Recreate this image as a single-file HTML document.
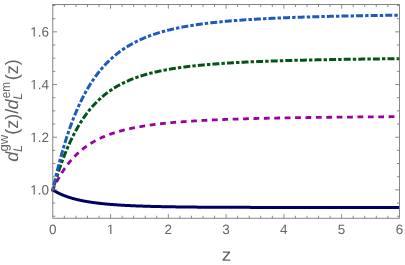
<!DOCTYPE html>
<html><head><meta charset="utf-8"><style>
html,body{margin:0;padding:0;background:#fff;}
body{width:405px;height:265px;position:relative;overflow:hidden;}
</style></head><body>
<svg width="405" height="265" viewBox="0 0 405 265" style="position:absolute;left:0;top:0;will-change:transform;opacity:0.999;text-rendering:geometricPrecision;font-family:'Liberation Sans',sans-serif" fill="#646464">
<g fill="none">
<path d="M52.80 189.90 L52.80 189.90 L52.81 189.90 L52.81 189.91 L52.82 189.91 L52.83 189.92 L52.85 189.93 L52.87 189.94 L52.89 189.96 L52.91 189.97 L52.94 189.99 L52.97 190.01 L53.00 190.03 L53.03 190.05 L53.07 190.07 L53.11 190.10 L53.15 190.12 L53.20 190.15 L53.25 190.18 L53.30 190.22 L53.35 190.25 L53.41 190.28 L53.47 190.32 L53.53 190.36 L53.60 190.40 L53.67 190.44 L53.74 190.48 L53.81 190.53 L53.89 190.58 L53.97 190.62 L54.05 190.67 L54.13 190.72 L54.22 190.78 L54.31 190.83 L54.40 190.89 L54.50 190.94 L54.60 191.00 L54.70 191.06 L54.80 191.12 L54.91 191.18 L55.02 191.24 L55.13 191.31 L55.25 191.37 L55.36 191.44 L55.48 191.51 L55.61 191.58 L55.73 191.65 L55.86 191.72 L55.99 191.79 L56.13 191.87 L56.27 191.94 L56.41 192.02 L56.55 192.10 L56.69 192.17 L56.84 192.25 L56.99 192.33 L57.15 192.41 L57.30 192.50 L57.46 192.58 L57.63 192.66 L57.79 192.75 L57.96 192.83 L58.13 192.92 L58.30 193.00 L58.48 193.09 L58.66 193.18 L58.84 193.27 L59.02 193.36 L59.21 193.45 L59.40 193.54 L59.59 193.63 L59.79 193.72 L59.99 193.81 L60.19 193.91 L60.39 194.00 L60.60 194.09 L60.81 194.19 L61.02 194.28 L61.23 194.38 L61.45 194.47 L61.67 194.57 L61.90 194.66 L62.12 194.76 L62.35 194.86 L62.58 194.95 L62.82 195.05 L63.05 195.15 L63.29 195.24 L63.54 195.34 L63.78 195.44 L64.03 195.54 L64.28 195.63 L64.53 195.73 L64.79 195.83 L65.05 195.93 L65.31 196.03 L65.58 196.12 L65.84 196.22 L66.11 196.32 L66.39 196.42 L66.66 196.52 L66.94 196.61 L67.22 196.71 L67.51 196.81 L67.80 196.91 L68.09 197.00 L68.38 197.10 L68.67 197.20 L68.97 197.30 L69.27 197.39 L69.58 197.49 L69.88 197.58 L70.19 197.68 L70.50 197.78 L70.82 197.87 L71.14 197.97 L71.46 198.06 L71.78 198.15 L72.10 198.25 L72.43 198.34 L72.76 198.44 L73.10 198.53 L73.44 198.62 L73.77 198.71 L74.12 198.80 L74.46 198.90 L74.81 198.99 L75.16 199.08 L75.51 199.17 L75.87 199.26 L76.23 199.35 L76.59 199.43 L76.96 199.52 L77.32 199.61 L77.69 199.70 L78.07 199.78 L78.44 199.87 L78.82 199.96 L79.20 200.04 L79.59 200.13 L79.97 200.21 L80.36 200.29 L80.76 200.38 L81.15 200.46 L81.55 200.54 L81.95 200.62 L82.35 200.70 L82.76 200.78 L83.17 200.86 L83.58 200.94 L83.99 201.02 L84.41 201.10 L84.83 201.18 L85.25 201.25 L85.68 201.33 L86.11 201.41 L86.54 201.48 L86.97 201.56 L87.41 201.63 L87.85 201.70 L88.29 201.78 L88.74 201.85 L89.18 201.92 L89.64 201.99 L90.09 202.06 L90.54 202.13 L91.00 202.20 L91.47 202.27 L91.93 202.34 L92.40 202.40 L92.87 202.47 L93.34 202.54 L93.82 202.60 L94.29 202.67 L94.77 202.73 L95.26 202.79 L95.75 202.86 L96.23 202.92 L96.73 202.98 L97.22 203.04 L97.72 203.10 L98.22 203.16 L98.72 203.22 L99.23 203.28 L99.74 203.34 L100.25 203.40 L100.76 203.46 L101.28 203.51 L101.80 203.57 L102.32 203.62 L102.85 203.68 L103.38 203.73 L103.91 203.79 L104.44 203.84 L104.98 203.89 L105.52 203.94 L106.06 203.99 L106.60 204.05 L107.15 204.10 L107.70 204.15 L108.26 204.19 L108.81 204.24 L109.37 204.29 L109.93 204.34 L110.50 204.39 L111.06 204.43 L111.63 204.48 L112.21 204.52 L112.78 204.57 L113.36 204.61 L113.94 204.66 L114.52 204.70 L115.11 204.74 L115.70 204.78 L116.29 204.83 L116.89 204.87 L117.48 204.91 L118.08 204.95 L118.69 204.99 L119.29 205.03 L119.90 205.06 L120.51 205.10 L121.13 205.14 L121.74 205.18 L122.36 205.21 L122.99 205.25 L123.61 205.29 L124.24 205.32 L124.87 205.36 L125.50 205.39 L126.14 205.43 L126.78 205.46 L127.42 205.49 L128.07 205.52 L128.71 205.56 L129.36 205.59 L130.02 205.62 L130.67 205.65 L131.33 205.68 L131.99 205.71 L132.66 205.74 L133.32 205.77 L133.99 205.80 L134.67 205.83 L135.34 205.86 L136.02 205.88 L136.70 205.91 L137.38 205.94 L138.07 205.96 L138.76 205.99 L139.45 206.02 L140.14 206.04 L140.84 206.07 L141.54 206.09 L142.24 206.12 L142.95 206.14 L143.66 206.16 L144.37 206.19 L145.08 206.21 L145.80 206.23 L146.52 206.25 L147.24 206.28 L147.97 206.30 L148.70 206.32 L149.43 206.34 L150.16 206.36 L150.90 206.38 L151.64 206.40 L152.38 206.42 L153.12 206.44 L153.87 206.46 L154.62 206.48 L155.37 206.50 L156.13 206.51 L156.89 206.53 L157.65 206.55 L158.41 206.57 L159.18 206.58 L159.95 206.60 L160.72 206.62 L161.49 206.63 L162.27 206.65 L163.05 206.67 L163.84 206.68 L164.62 206.70 L165.41 206.71 L166.20 206.73 L167.00 206.74 L167.79 206.76 L168.59 206.77 L169.40 206.78 L170.20 206.80 L171.01 206.81 L171.82 206.82 L172.63 206.84 L173.45 206.85 L174.27 206.86 L175.09 206.87 L175.92 206.89 L176.75 206.90 L177.58 206.91 L178.41 206.92 L179.25 206.93 L180.08 206.94 L180.93 206.95 L181.77 206.96 L182.62 206.97 L183.47 206.98 L184.32 206.99 L185.17 207.00 L186.03 207.01 L186.89 207.02 L187.76 207.03 L188.62 207.04 L189.49 207.05 L190.37 207.06 L191.24 207.07 L192.12 207.08 L193.00 207.09 L193.88 207.09 L194.77 207.10 L195.66 207.11 L196.55 207.12 L197.44 207.13 L198.34 207.13 L199.24 207.14 L200.14 207.15 L201.05 207.15 L201.95 207.16 L202.87 207.17 L203.78 207.17 L204.70 207.18 L205.61 207.19 L206.54 207.19 L207.46 207.20 L208.39 207.21 L209.32 207.21 L210.25 207.22 L211.19 207.22 L212.13 207.23 L213.07 207.23 L214.01 207.24 L214.96 207.25 L215.91 207.25 L216.86 207.26 L217.82 207.26 L218.77 207.27 L219.74 207.27 L220.70 207.27 L221.66 207.28 L222.63 207.28 L223.61 207.29 L224.58 207.29 L225.56 207.30 L226.54 207.30 L227.52 207.30 L228.51 207.31 L229.50 207.31 L230.49 207.32 L231.48 207.32 L232.48 207.32 L233.48 207.33 L234.48 207.33 L235.48 207.33 L236.49 207.34 L237.50 207.34 L238.52 207.34 L239.53 207.35 L240.55 207.35 L241.57 207.35 L242.60 207.36 L243.63 207.36 L244.66 207.36 L245.69 207.36 L246.72 207.37 L247.76 207.37 L248.80 207.37 L249.85 207.37 L250.89 207.38 L251.94 207.38 L253.00 207.38 L254.05 207.38 L255.11 207.39 L256.17 207.39 L257.23 207.39 L258.30 207.39 L259.37 207.39 L260.44 207.40 L261.51 207.40 L262.59 207.40 L263.67 207.40 L264.75 207.40 L265.84 207.40 L266.93 207.41 L268.02 207.41 L269.11 207.41 L270.21 207.41 L271.31 207.41 L272.41 207.41 L273.52 207.42 L274.62 207.42 L275.73 207.42 L276.85 207.42 L277.96 207.42 L279.08 207.42 L280.20 207.42 L281.33 207.43 L282.46 207.43 L283.59 207.43 L284.72 207.43 L285.85 207.43 L286.99 207.43 L288.13 207.43 L289.28 207.43 L290.42 207.43 L291.57 207.44 L292.72 207.44 L293.88 207.44 L295.04 207.44 L296.20 207.44 L297.36 207.44 L298.53 207.44 L299.70 207.44 L300.87 207.44 L302.04 207.44 L303.22 207.44 L304.40 207.44 L305.58 207.45 L306.77 207.45 L307.95 207.45 L309.15 207.45 L310.34 207.45 L311.54 207.45 L312.73 207.45 L313.94 207.45 L315.14 207.45 L316.35 207.45 L317.56 207.45 L318.77 207.45 L319.99 207.45 L321.21 207.45 L322.43 207.45 L323.65 207.45 L324.88 207.45 L326.11 207.46 L327.34 207.46 L328.58 207.46 L329.82 207.46 L331.06 207.46 L332.30 207.46 L333.55 207.46 L334.80 207.46 L336.05 207.46 L337.30 207.46 L338.56 207.46 L339.82 207.46 L341.08 207.46 L342.35 207.46 L343.62 207.46 L344.89 207.46 L346.16 207.46 L347.44 207.46 L348.72 207.46 L350.00 207.46 L351.29 207.46 L352.57 207.46 L353.87 207.46 L355.16 207.46 L356.45 207.46 L357.75 207.46 L359.06 207.46 L360.36 207.46 L361.67 207.46 L362.98 207.46 L364.29 207.46 L365.61 207.46 L366.92 207.46 L368.25 207.46 L369.57 207.46 L370.90 207.47 L372.23 207.47 L373.56 207.47 L374.89 207.47 L376.23 207.47 L377.57 207.47 L378.92 207.47 L380.26 207.47 L381.61 207.47 L382.96 207.47 L384.32 207.47 L385.67 207.47 L387.03 207.47 L388.40 207.47 L389.76 207.47 L391.13 207.47 L392.50 207.47 L393.88 207.47 L395.25 207.47 L396.63 207.47 L398.01 207.47 L399.40 207.47" stroke="#000064" stroke-width="3.0"/>
<path d="M52.80 189.90 L52.80 189.90 L52.81 189.89 L52.81 189.87 L52.82 189.85 L52.83 189.82 L52.85 189.79 L52.87 189.75 L52.89 189.70 L52.91 189.65 L52.94 189.59 L52.97 189.53 L53.00 189.46 L53.03 189.38 L53.07 189.30 L53.11 189.21 L53.15 189.12 L53.20 189.02 L53.25 188.91 L53.30 188.80 L53.35 188.68 L53.41 188.56 L53.47 188.43 L53.53 188.29 L53.60 188.15 L53.67 188.01 L53.74 187.85 L53.81 187.70 L53.89 187.53 L53.97 187.37 L54.05 187.19 L54.13 187.01 L54.22 186.83 L54.31 186.64 L54.40 186.45 L54.50 186.25 L54.60 186.04 L54.70 185.83 L54.80 185.62 L54.91 185.40 L55.02 185.17 L55.13 184.94 L55.25 184.71 L55.36 184.47 L55.48 184.23 L55.61 183.98 L55.73 183.73 L55.86 183.47 L55.99 183.21 L56.13 182.95 L56.27 182.68 L56.41 182.41 L56.55 182.13 L56.69 181.85 L56.84 181.57 L56.99 181.28 L57.15 180.99 L57.30 180.69 L57.46 180.40 L57.63 180.09 L57.79 179.79 L57.96 179.48 L58.13 179.17 L58.30 178.85 L58.48 178.54 L58.66 178.22 L58.84 177.89 L59.02 177.57 L59.21 177.24 L59.40 176.91 L59.59 176.57 L59.79 176.24 L59.99 175.90 L60.19 175.56 L60.39 175.21 L60.60 174.87 L60.81 174.52 L61.02 174.17 L61.23 173.82 L61.45 173.47 L61.67 173.11 L61.90 172.75 L62.12 172.40 L62.35 172.04 L62.58 171.68 L62.82 171.31 L63.05 170.95 L63.29 170.59 L63.54 170.22 L63.78 169.85 L64.03 169.49 L64.28 169.12 L64.53 168.75 L64.79 168.38 L65.05 168.01 L65.31 167.64 L65.58 167.27 L65.84 166.89 L66.11 166.52 L66.39 166.15 L66.66 165.78 L66.94 165.40 L67.22 165.03 L67.51 164.66 L67.80 164.28 L68.09 163.91 L68.38 163.54 L68.67 163.17 L68.97 162.79 L69.27 162.42 L69.58 162.05 L69.88 161.68 L70.19 161.31 L70.50 160.94 L70.82 160.57 L71.14 160.20 L71.46 159.83 L71.78 159.47 L72.10 159.10 L72.43 158.74 L72.76 158.37 L73.10 158.01 L73.44 157.65 L73.77 157.28 L74.12 156.92 L74.46 156.57 L74.81 156.21 L75.16 155.85 L75.51 155.50 L75.87 155.14 L76.23 154.79 L76.59 154.44 L76.96 154.09 L77.32 153.74 L77.69 153.40 L78.07 153.05 L78.44 152.71 L78.82 152.37 L79.20 152.03 L79.59 151.69 L79.97 151.35 L80.36 151.02 L80.76 150.68 L81.15 150.35 L81.55 150.02 L81.95 149.70 L82.35 149.37 L82.76 149.05 L83.17 148.72 L83.58 148.40 L83.99 148.09 L84.41 147.77 L84.83 147.46 L85.25 147.14 L85.68 146.83 L86.11 146.53 L86.54 146.22 L86.97 145.92 L87.41 145.62 L87.85 145.32 L88.29 145.02 L88.74 144.72 L89.18 144.43 L89.64 144.14 L90.09 143.85 L90.54 143.56 L91.00 143.28 L91.47 143.00 L91.93 142.72 L92.40 142.44 L92.87 142.16 L93.34 141.89 L93.82 141.62 L94.29 141.35 L94.77 141.08 L95.26 140.82 L95.75 140.56 L96.23 140.30 L96.73 140.04 L97.22 139.78 L97.72 139.53 L98.22 139.28 L98.72 139.03 L99.23 138.78 L99.74 138.54 L100.25 138.29 L100.76 138.05 L101.28 137.81 L101.80 137.58 L102.32 137.34 L102.85 137.11 L103.38 136.88 L103.91 136.65 L104.44 136.43 L104.98 136.21 L105.52 135.98 L106.06 135.76 L106.60 135.55 L107.15 135.33 L107.70 135.12 L108.26 134.91 L108.81 134.70 L109.37 134.49 L109.93 134.29 L110.50 134.09 L111.06 133.89 L111.63 133.69 L112.21 133.49 L112.78 133.30 L113.36 133.11 L113.94 132.91 L114.52 132.73 L115.11 132.54 L115.70 132.36 L116.29 132.17 L116.89 131.99 L117.48 131.81 L118.08 131.64 L118.69 131.46 L119.29 131.29 L119.90 131.12 L120.51 130.95 L121.13 130.78 L121.74 130.61 L122.36 130.45 L122.99 130.29 L123.61 130.13 L124.24 129.97 L124.87 129.81 L125.50 129.65 L126.14 129.50 L126.78 129.35 L127.42 129.20 L128.07 129.05 L128.71 128.90 L129.36 128.76 L130.02 128.61 L130.67 128.47 L131.33 128.33 L131.99 128.19 L132.66 128.05 L133.32 127.92 L133.99 127.78 L134.67 127.65 L135.34 127.52 L136.02 127.39 L136.70 127.26 L137.38 127.13 L138.07 127.01 L138.76 126.88 L139.45 126.76 L140.14 126.64 L140.84 126.52 L141.54 126.40 L142.24 126.28 L142.95 126.17 L143.66 126.05 L144.37 125.94 L145.08 125.83 L145.80 125.72 L146.52 125.61 L147.24 125.50 L147.97 125.39 L148.70 125.29 L149.43 125.18 L150.16 125.08 L150.90 124.98 L151.64 124.88 L152.38 124.78 L153.12 124.68 L153.87 124.58 L154.62 124.48 L155.37 124.39 L156.13 124.29 L156.89 124.20 L157.65 124.11 L158.41 124.02 L159.18 123.93 L159.95 123.84 L160.72 123.75 L161.49 123.67 L162.27 123.58 L163.05 123.50 L163.84 123.41 L164.62 123.33 L165.41 123.25 L166.20 123.17 L167.00 123.09 L167.79 123.01 L168.59 122.93 L169.40 122.86 L170.20 122.78 L171.01 122.70 L171.82 122.63 L172.63 122.56 L173.45 122.48 L174.27 122.41 L175.09 122.34 L175.92 122.27 L176.75 122.20 L177.58 122.13 L178.41 122.07 L179.25 122.00 L180.08 121.93 L180.93 121.87 L181.77 121.80 L182.62 121.74 L183.47 121.68 L184.32 121.61 L185.17 121.55 L186.03 121.49 L186.89 121.43 L187.76 121.37 L188.62 121.31 L189.49 121.26 L190.37 121.20 L191.24 121.14 L192.12 121.08 L193.00 121.03 L193.88 120.97 L194.77 120.92 L195.66 120.87 L196.55 120.81 L197.44 120.76 L198.34 120.71 L199.24 120.66 L200.14 120.61 L201.05 120.56 L201.95 120.51 L202.87 120.46 L203.78 120.41 L204.70 120.36 L205.61 120.32 L206.54 120.27 L207.46 120.22 L208.39 120.18 L209.32 120.13 L210.25 120.09 L211.19 120.05 L212.13 120.00 L213.07 119.96 L214.01 119.92 L214.96 119.87 L215.91 119.83 L216.86 119.79 L217.82 119.75 L218.77 119.71 L219.74 119.67 L220.70 119.63 L221.66 119.59 L222.63 119.55 L223.61 119.52 L224.58 119.48 L225.56 119.44 L226.54 119.40 L227.52 119.37 L228.51 119.33 L229.50 119.30 L230.49 119.26 L231.48 119.23 L232.48 119.19 L233.48 119.16 L234.48 119.12 L235.48 119.09 L236.49 119.06 L237.50 119.03 L238.52 118.99 L239.53 118.96 L240.55 118.93 L241.57 118.90 L242.60 118.87 L243.63 118.84 L244.66 118.81 L245.69 118.78 L246.72 118.75 L247.76 118.72 L248.80 118.69 L249.85 118.66 L250.89 118.63 L251.94 118.61 L253.00 118.58 L254.05 118.55 L255.11 118.52 L256.17 118.50 L257.23 118.47 L258.30 118.44 L259.37 118.42 L260.44 118.39 L261.51 118.37 L262.59 118.34 L263.67 118.32 L264.75 118.29 L265.84 118.27 L266.93 118.24 L268.02 118.22 L269.11 118.20 L270.21 118.17 L271.31 118.15 L272.41 118.13 L273.52 118.10 L274.62 118.08 L275.73 118.06 L276.85 118.04 L277.96 118.02 L279.08 117.99 L280.20 117.97 L281.33 117.95 L282.46 117.93 L283.59 117.91 L284.72 117.89 L285.85 117.87 L286.99 117.85 L288.13 117.83 L289.28 117.81 L290.42 117.79 L291.57 117.77 L292.72 117.75 L293.88 117.73 L295.04 117.72 L296.20 117.70 L297.36 117.68 L298.53 117.66 L299.70 117.64 L300.87 117.63 L302.04 117.61 L303.22 117.59 L304.40 117.57 L305.58 117.56 L306.77 117.54 L307.95 117.52 L309.15 117.51 L310.34 117.49 L311.54 117.47 L312.73 117.46 L313.94 117.44 L315.14 117.43 L316.35 117.41 L317.56 117.40 L318.77 117.38 L319.99 117.37 L321.21 117.35 L322.43 117.34 L323.65 117.32 L324.88 117.31 L326.11 117.29 L327.34 117.28 L328.58 117.26 L329.82 117.25 L331.06 117.24 L332.30 117.22 L333.55 117.21 L334.80 117.20 L336.05 117.18 L337.30 117.17 L338.56 117.16 L339.82 117.14 L341.08 117.13 L342.35 117.12 L343.62 117.10 L344.89 117.09 L346.16 117.08 L347.44 117.07 L348.72 117.06 L350.00 117.04 L351.29 117.03 L352.57 117.02 L353.87 117.01 L355.16 117.00 L356.45 116.99 L357.75 116.97 L359.06 116.96 L360.36 116.95 L361.67 116.94 L362.98 116.93 L364.29 116.92 L365.61 116.91 L366.92 116.90 L368.25 116.89 L369.57 116.88 L370.90 116.87 L372.23 116.86 L373.56 116.85 L374.89 116.84 L376.23 116.83 L377.57 116.82 L378.92 116.81 L380.26 116.80 L381.61 116.79 L382.96 116.78 L384.32 116.77 L385.67 116.76 L387.03 116.75 L388.40 116.74 L389.76 116.73 L391.13 116.72 L392.50 116.71 L393.88 116.70 L395.25 116.69 L396.63 116.69 L398.01 116.68 L399.40 116.67" stroke="#9a00a0" stroke-width="2.8" stroke-dasharray="5.8 4.6" stroke-dashoffset="1.67"/>
<path d="M52.80 189.90 L52.80 189.90 L52.81 189.88 L52.81 189.86 L52.82 189.82 L52.83 189.78 L52.85 189.73 L52.87 189.67 L52.89 189.59 L52.91 189.51 L52.94 189.42 L52.97 189.32 L53.00 189.21 L53.03 189.10 L53.07 188.97 L53.11 188.83 L53.15 188.68 L53.20 188.53 L53.25 188.36 L53.30 188.19 L53.35 188.00 L53.41 187.81 L53.47 187.61 L53.53 187.40 L53.60 187.18 L53.67 186.95 L53.74 186.71 L53.81 186.46 L53.89 186.21 L53.97 185.94 L54.05 185.67 L54.13 185.39 L54.22 185.10 L54.31 184.80 L54.40 184.49 L54.50 184.17 L54.60 183.85 L54.70 183.52 L54.80 183.18 L54.91 182.83 L55.02 182.47 L55.13 182.10 L55.25 181.73 L55.36 181.35 L55.48 180.96 L55.61 180.56 L55.73 180.16 L55.86 179.75 L55.99 179.33 L56.13 178.90 L56.27 178.47 L56.41 178.03 L56.55 177.58 L56.69 177.12 L56.84 176.66 L56.99 176.19 L57.15 175.72 L57.30 175.23 L57.46 174.75 L57.63 174.25 L57.79 173.75 L57.96 173.24 L58.13 172.73 L58.30 172.21 L58.48 171.68 L58.66 171.15 L58.84 170.61 L59.02 170.07 L59.21 169.52 L59.40 168.97 L59.59 168.41 L59.79 167.85 L59.99 167.28 L60.19 166.70 L60.39 166.12 L60.60 165.54 L60.81 164.95 L61.02 164.36 L61.23 163.77 L61.45 163.17 L61.67 162.56 L61.90 161.95 L62.12 161.34 L62.35 160.73 L62.58 160.11 L62.82 159.48 L63.05 158.86 L63.29 158.23 L63.54 157.60 L63.78 156.96 L64.03 156.32 L64.28 155.68 L64.53 155.04 L64.79 154.39 L65.05 153.75 L65.31 153.10 L65.58 152.44 L65.84 151.79 L66.11 151.13 L66.39 150.48 L66.66 149.82 L66.94 149.16 L67.22 148.50 L67.51 147.83 L67.80 147.17 L68.09 146.50 L68.38 145.84 L68.67 145.17 L68.97 144.50 L69.27 143.84 L69.58 143.17 L69.88 142.50 L70.19 141.83 L70.50 141.16 L70.82 140.49 L71.14 139.83 L71.46 139.16 L71.78 138.49 L72.10 137.82 L72.43 137.16 L72.76 136.49 L73.10 135.83 L73.44 135.16 L73.77 134.50 L74.12 133.84 L74.46 133.18 L74.81 132.52 L75.16 131.86 L75.51 131.21 L75.87 130.55 L76.23 129.90 L76.59 129.25 L76.96 128.60 L77.32 127.95 L77.69 127.31 L78.07 126.66 L78.44 126.02 L78.82 125.39 L79.20 124.75 L79.59 124.12 L79.97 123.48 L80.36 122.86 L80.76 122.23 L81.15 121.61 L81.55 120.99 L81.95 120.37 L82.35 119.75 L82.76 119.14 L83.17 118.53 L83.58 117.93 L83.99 117.33 L84.41 116.73 L84.83 116.13 L85.25 115.54 L85.68 114.95 L86.11 114.37 L86.54 113.78 L86.97 113.21 L87.41 112.63 L87.85 112.06 L88.29 111.49 L88.74 110.93 L89.18 110.37 L89.64 109.81 L90.09 109.26 L90.54 108.71 L91.00 108.16 L91.47 107.62 L91.93 107.09 L92.40 106.55 L92.87 106.02 L93.34 105.50 L93.82 104.98 L94.29 104.46 L94.77 103.95 L95.26 103.44 L95.75 102.93 L96.23 102.43 L96.73 101.93 L97.22 101.44 L97.72 100.95 L98.22 100.47 L98.72 99.99 L99.23 99.51 L99.74 99.04 L100.25 98.57 L100.76 98.10 L101.28 97.64 L101.80 97.19 L102.32 96.74 L102.85 96.29 L103.38 95.85 L103.91 95.41 L104.44 94.97 L104.98 94.54 L105.52 94.12 L106.06 93.69 L106.60 93.27 L107.15 92.86 L107.70 92.45 L108.26 92.04 L108.81 91.64 L109.37 91.24 L109.93 90.85 L110.50 90.46 L111.06 90.07 L111.63 89.69 L112.21 89.31 L112.78 88.94 L113.36 88.57 L113.94 88.20 L114.52 87.84 L115.11 87.48 L115.70 87.12 L116.29 86.77 L116.89 86.43 L117.48 86.08 L118.08 85.74 L118.69 85.41 L119.29 85.07 L119.90 84.74 L120.51 84.42 L121.13 84.10 L121.74 83.78 L122.36 83.47 L122.99 83.16 L123.61 82.85 L124.24 82.55 L124.87 82.24 L125.50 81.95 L126.14 81.65 L126.78 81.37 L127.42 81.08 L128.07 80.80 L128.71 80.52 L129.36 80.24 L130.02 79.97 L130.67 79.70 L131.33 79.43 L131.99 79.16 L132.66 78.90 L133.32 78.65 L133.99 78.39 L134.67 78.14 L135.34 77.89 L136.02 77.65 L136.70 77.40 L137.38 77.17 L138.07 76.93 L138.76 76.69 L139.45 76.46 L140.14 76.24 L140.84 76.01 L141.54 75.79 L142.24 75.57 L142.95 75.35 L143.66 75.14 L144.37 74.93 L145.08 74.72 L145.80 74.51 L146.52 74.31 L147.24 74.10 L147.97 73.91 L148.70 73.71 L149.43 73.51 L150.16 73.32 L150.90 73.13 L151.64 72.95 L152.38 72.76 L153.12 72.58 L153.87 72.40 L154.62 72.22 L155.37 72.05 L156.13 71.87 L156.89 71.70 L157.65 71.53 L158.41 71.37 L159.18 71.20 L159.95 71.04 L160.72 70.88 L161.49 70.72 L162.27 70.57 L163.05 70.41 L163.84 70.26 L164.62 70.11 L165.41 69.96 L166.20 69.81 L167.00 69.67 L167.79 69.52 L168.59 69.38 L169.40 69.24 L170.20 69.11 L171.01 68.97 L171.82 68.84 L172.63 68.70 L173.45 68.57 L174.27 68.44 L175.09 68.32 L175.92 68.19 L176.75 68.06 L177.58 67.94 L178.41 67.82 L179.25 67.70 L180.08 67.58 L180.93 67.47 L181.77 67.35 L182.62 67.24 L183.47 67.12 L184.32 67.01 L185.17 66.90 L186.03 66.80 L186.89 66.69 L187.76 66.58 L188.62 66.48 L189.49 66.38 L190.37 66.28 L191.24 66.18 L192.12 66.08 L193.00 65.98 L193.88 65.88 L194.77 65.79 L195.66 65.69 L196.55 65.60 L197.44 65.51 L198.34 65.42 L199.24 65.33 L200.14 65.24 L201.05 65.15 L201.95 65.07 L202.87 64.98 L203.78 64.90 L204.70 64.81 L205.61 64.73 L206.54 64.65 L207.46 64.57 L208.39 64.49 L209.32 64.41 L210.25 64.34 L211.19 64.26 L212.13 64.19 L213.07 64.11 L214.01 64.04 L214.96 63.97 L215.91 63.89 L216.86 63.82 L217.82 63.75 L218.77 63.68 L219.74 63.62 L220.70 63.55 L221.66 63.48 L222.63 63.42 L223.61 63.35 L224.58 63.29 L225.56 63.22 L226.54 63.16 L227.52 63.10 L228.51 63.04 L229.50 62.98 L230.49 62.92 L231.48 62.86 L232.48 62.80 L233.48 62.74 L234.48 62.69 L235.48 62.63 L236.49 62.57 L237.50 62.52 L238.52 62.47 L239.53 62.41 L240.55 62.36 L241.57 62.31 L242.60 62.25 L243.63 62.20 L244.66 62.15 L245.69 62.10 L246.72 62.05 L247.76 62.01 L248.80 61.96 L249.85 61.91 L250.89 61.86 L251.94 61.82 L253.00 61.77 L254.05 61.72 L255.11 61.68 L256.17 61.63 L257.23 61.59 L258.30 61.55 L259.37 61.50 L260.44 61.46 L261.51 61.42 L262.59 61.38 L263.67 61.34 L264.75 61.30 L265.84 61.26 L266.93 61.22 L268.02 61.18 L269.11 61.14 L270.21 61.10 L271.31 61.06 L272.41 61.02 L273.52 60.99 L274.62 60.95 L275.73 60.91 L276.85 60.88 L277.96 60.84 L279.08 60.81 L280.20 60.77 L281.33 60.74 L282.46 60.71 L283.59 60.67 L284.72 60.64 L285.85 60.61 L286.99 60.57 L288.13 60.54 L289.28 60.51 L290.42 60.48 L291.57 60.45 L292.72 60.42 L293.88 60.39 L295.04 60.36 L296.20 60.33 L297.36 60.30 L298.53 60.27 L299.70 60.24 L300.87 60.21 L302.04 60.18 L303.22 60.15 L304.40 60.13 L305.58 60.10 L306.77 60.07 L307.95 60.04 L309.15 60.02 L310.34 59.99 L311.54 59.97 L312.73 59.94 L313.94 59.91 L315.14 59.89 L316.35 59.86 L317.56 59.84 L318.77 59.82 L319.99 59.79 L321.21 59.77 L322.43 59.74 L323.65 59.72 L324.88 59.70 L326.11 59.67 L327.34 59.65 L328.58 59.63 L329.82 59.61 L331.06 59.58 L332.30 59.56 L333.55 59.54 L334.80 59.52 L336.05 59.50 L337.30 59.48 L338.56 59.46 L339.82 59.44 L341.08 59.42 L342.35 59.40 L343.62 59.38 L344.89 59.36 L346.16 59.34 L347.44 59.32 L348.72 59.30 L350.00 59.28 L351.29 59.26 L352.57 59.24 L353.87 59.22 L355.16 59.21 L356.45 59.19 L357.75 59.17 L359.06 59.15 L360.36 59.13 L361.67 59.12 L362.98 59.10 L364.29 59.08 L365.61 59.07 L366.92 59.05 L368.25 59.03 L369.57 59.02 L370.90 59.00 L372.23 58.98 L373.56 58.97 L374.89 58.95 L376.23 58.94 L377.57 58.92 L378.92 58.91 L380.26 58.89 L381.61 58.88 L382.96 58.86 L384.32 58.85 L385.67 58.83 L387.03 58.82 L388.40 58.80 L389.76 58.79 L391.13 58.78 L392.50 58.76 L393.88 58.75 L395.25 58.73 L396.63 58.72 L398.01 58.71 L399.40 58.69" stroke="#04541a" stroke-width="3.0" stroke-dasharray="3.4 2.1 7.0 2.1" stroke-dashoffset="0.8"/>
<path d="M52.80 189.90 L52.80 189.89 L52.81 189.87 L52.81 189.84 L52.82 189.80 L52.83 189.74 L52.85 189.67 L52.87 189.59 L52.89 189.49 L52.91 189.39 L52.94 189.27 L52.97 189.13 L53.00 188.99 L53.03 188.83 L53.07 188.66 L53.11 188.48 L53.15 188.29 L53.20 188.08 L53.25 187.86 L53.30 187.63 L53.35 187.38 L53.41 187.13 L53.47 186.86 L53.53 186.58 L53.60 186.29 L53.67 185.99 L53.74 185.67 L53.81 185.34 L53.89 185.00 L53.97 184.65 L54.05 184.29 L54.13 183.92 L54.22 183.54 L54.31 183.14 L54.40 182.73 L54.50 182.32 L54.60 181.89 L54.70 181.45 L54.80 181.00 L54.91 180.54 L55.02 180.07 L55.13 179.58 L55.25 179.09 L55.36 178.59 L55.48 178.08 L55.61 177.56 L55.73 177.02 L55.86 176.48 L55.99 175.93 L56.13 175.37 L56.27 174.80 L56.41 174.22 L56.55 173.63 L56.69 173.03 L56.84 172.43 L56.99 171.81 L57.15 171.19 L57.30 170.56 L57.46 169.91 L57.63 169.27 L57.79 168.61 L57.96 167.94 L58.13 167.27 L58.30 166.59 L58.48 165.90 L58.66 165.21 L58.84 164.51 L59.02 163.80 L59.21 163.08 L59.40 162.36 L59.59 161.63 L59.79 160.89 L59.99 160.15 L60.19 159.40 L60.39 158.65 L60.60 157.89 L60.81 157.12 L61.02 156.35 L61.23 155.58 L61.45 154.80 L61.67 154.01 L61.90 153.22 L62.12 152.42 L62.35 151.62 L62.58 150.82 L62.82 150.01 L63.05 149.19 L63.29 148.37 L63.54 147.55 L63.78 146.73 L64.03 145.90 L64.28 145.07 L64.53 144.23 L64.79 143.39 L65.05 142.55 L65.31 141.71 L65.58 140.86 L65.84 140.02 L66.11 139.16 L66.39 138.31 L66.66 137.46 L66.94 136.60 L67.22 135.74 L67.51 134.88 L67.80 134.02 L68.09 133.16 L68.38 132.29 L68.67 131.43 L68.97 130.56 L69.27 129.70 L69.58 128.83 L69.88 127.97 L70.19 127.10 L70.50 126.23 L70.82 125.36 L71.14 124.50 L71.46 123.63 L71.78 122.76 L72.10 121.90 L72.43 121.03 L72.76 120.17 L73.10 119.31 L73.44 118.44 L73.77 117.58 L74.12 116.72 L74.46 115.87 L74.81 115.01 L75.16 114.15 L75.51 113.30 L75.87 112.45 L76.23 111.60 L76.59 110.75 L76.96 109.91 L77.32 109.06 L77.69 108.22 L78.07 107.39 L78.44 106.55 L78.82 105.72 L79.20 104.89 L79.59 104.06 L79.97 103.24 L80.36 102.42 L80.76 101.60 L81.15 100.78 L81.55 99.97 L81.95 99.17 L82.35 98.36 L82.76 97.56 L83.17 96.76 L83.58 95.97 L83.99 95.18 L84.41 94.39 L84.83 93.61 L85.25 92.83 L85.68 92.06 L86.11 91.29 L86.54 90.52 L86.97 89.76 L87.41 89.01 L87.85 88.25 L88.29 87.50 L88.74 86.76 L89.18 86.02 L89.64 85.29 L90.09 84.56 L90.54 83.83 L91.00 83.11 L91.47 82.39 L91.93 81.68 L92.40 80.97 L92.87 80.27 L93.34 79.57 L93.82 78.88 L94.29 78.19 L94.77 77.51 L95.26 76.83 L95.75 76.16 L96.23 75.49 L96.73 74.83 L97.22 74.17 L97.72 73.52 L98.22 72.87 L98.72 72.23 L99.23 71.59 L99.74 70.96 L100.25 70.33 L100.76 69.71 L101.28 69.09 L101.80 68.48 L102.32 67.87 L102.85 67.27 L103.38 66.67 L103.91 66.08 L104.44 65.50 L104.98 64.91 L105.52 64.34 L106.06 63.77 L106.60 63.20 L107.15 62.64 L107.70 62.08 L108.26 61.53 L108.81 60.99 L109.37 60.45 L109.93 59.91 L110.50 59.38 L111.06 58.86 L111.63 58.34 L112.21 57.82 L112.78 57.31 L113.36 56.81 L113.94 56.31 L114.52 55.81 L115.11 55.32 L115.70 54.84 L116.29 54.36 L116.89 53.88 L117.48 53.41 L118.08 52.94 L118.69 52.48 L119.29 52.03 L119.90 51.57 L120.51 51.13 L121.13 50.68 L121.74 50.25 L122.36 49.81 L122.99 49.39 L123.61 48.96 L124.24 48.54 L124.87 48.13 L125.50 47.72 L126.14 47.31 L126.78 46.91 L127.42 46.51 L128.07 46.12 L128.71 45.73 L129.36 45.35 L130.02 44.97 L130.67 44.59 L131.33 44.22 L131.99 43.86 L132.66 43.49 L133.32 43.13 L133.99 42.78 L134.67 42.43 L135.34 42.08 L136.02 41.74 L136.70 41.40 L137.38 41.07 L138.07 40.74 L138.76 40.41 L139.45 40.09 L140.14 39.77 L140.84 39.45 L141.54 39.14 L142.24 38.83 L142.95 38.53 L143.66 38.22 L144.37 37.93 L145.08 37.63 L145.80 37.34 L146.52 37.06 L147.24 36.77 L147.97 36.49 L148.70 36.22 L149.43 35.94 L150.16 35.67 L150.90 35.41 L151.64 35.14 L152.38 34.88 L153.12 34.62 L153.87 34.37 L154.62 34.12 L155.37 33.87 L156.13 33.63 L156.89 33.39 L157.65 33.15 L158.41 32.91 L159.18 32.68 L159.95 32.45 L160.72 32.22 L161.49 32.00 L162.27 31.77 L163.05 31.55 L163.84 31.34 L164.62 31.13 L165.41 30.91 L166.20 30.71 L167.00 30.50 L167.79 30.30 L168.59 30.10 L169.40 29.90 L170.20 29.70 L171.01 29.51 L171.82 29.32 L172.63 29.13 L173.45 28.95 L174.27 28.76 L175.09 28.58 L175.92 28.40 L176.75 28.23 L177.58 28.05 L178.41 27.88 L179.25 27.71 L180.08 27.54 L180.93 27.37 L181.77 27.21 L182.62 27.05 L183.47 26.89 L184.32 26.73 L185.17 26.58 L186.03 26.42 L186.89 26.27 L187.76 26.12 L188.62 25.97 L189.49 25.83 L190.37 25.68 L191.24 25.54 L192.12 25.40 L193.00 25.26 L193.88 25.12 L194.77 24.99 L195.66 24.85 L196.55 24.72 L197.44 24.59 L198.34 24.46 L199.24 24.34 L200.14 24.21 L201.05 24.09 L201.95 23.97 L202.87 23.84 L203.78 23.73 L204.70 23.61 L205.61 23.49 L206.54 23.38 L207.46 23.26 L208.39 23.15 L209.32 23.04 L210.25 22.93 L211.19 22.82 L212.13 22.72 L213.07 22.61 L214.01 22.51 L214.96 22.41 L215.91 22.31 L216.86 22.21 L217.82 22.11 L218.77 22.01 L219.74 21.91 L220.70 21.82 L221.66 21.72 L222.63 21.63 L223.61 21.54 L224.58 21.45 L225.56 21.36 L226.54 21.27 L227.52 21.18 L228.51 21.10 L229.50 21.01 L230.49 20.93 L231.48 20.85 L232.48 20.77 L233.48 20.68 L234.48 20.60 L235.48 20.53 L236.49 20.45 L237.50 20.37 L238.52 20.30 L239.53 20.22 L240.55 20.15 L241.57 20.07 L242.60 20.00 L243.63 19.93 L244.66 19.86 L245.69 19.79 L246.72 19.72 L247.76 19.65 L248.80 19.58 L249.85 19.52 L250.89 19.45 L251.94 19.39 L253.00 19.32 L254.05 19.26 L255.11 19.20 L256.17 19.14 L257.23 19.07 L258.30 19.01 L259.37 18.95 L260.44 18.90 L261.51 18.84 L262.59 18.78 L263.67 18.72 L264.75 18.67 L265.84 18.61 L266.93 18.56 L268.02 18.50 L269.11 18.45 L270.21 18.40 L271.31 18.34 L272.41 18.29 L273.52 18.24 L274.62 18.19 L275.73 18.14 L276.85 18.09 L277.96 18.04 L279.08 17.99 L280.20 17.95 L281.33 17.90 L282.46 17.85 L283.59 17.81 L284.72 17.76 L285.85 17.72 L286.99 17.67 L288.13 17.63 L289.28 17.58 L290.42 17.54 L291.57 17.50 L292.72 17.46 L293.88 17.42 L295.04 17.37 L296.20 17.33 L297.36 17.29 L298.53 17.25 L299.70 17.21 L300.87 17.18 L302.04 17.14 L303.22 17.10 L304.40 17.06 L305.58 17.03 L306.77 16.99 L307.95 16.95 L309.15 16.92 L310.34 16.88 L311.54 16.85 L312.73 16.81 L313.94 16.78 L315.14 16.74 L316.35 16.71 L317.56 16.68 L318.77 16.64 L319.99 16.61 L321.21 16.58 L322.43 16.55 L323.65 16.52 L324.88 16.48 L326.11 16.45 L327.34 16.42 L328.58 16.39 L329.82 16.36 L331.06 16.33 L332.30 16.30 L333.55 16.28 L334.80 16.25 L336.05 16.22 L337.30 16.19 L338.56 16.16 L339.82 16.14 L341.08 16.11 L342.35 16.08 L343.62 16.06 L344.89 16.03 L346.16 16.00 L347.44 15.98 L348.72 15.95 L350.00 15.93 L351.29 15.90 L352.57 15.88 L353.87 15.85 L355.16 15.83 L356.45 15.81 L357.75 15.78 L359.06 15.76 L360.36 15.74 L361.67 15.71 L362.98 15.69 L364.29 15.67 L365.61 15.65 L366.92 15.62 L368.25 15.60 L369.57 15.58 L370.90 15.56 L372.23 15.54 L373.56 15.52 L374.89 15.50 L376.23 15.48 L377.57 15.46 L378.92 15.44 L380.26 15.42 L381.61 15.40 L382.96 15.38 L384.32 15.36 L385.67 15.34 L387.03 15.32 L388.40 15.30 L389.76 15.28 L391.13 15.26 L392.50 15.24 L393.88 15.23 L395.25 15.21 L396.63 15.19 L398.01 15.17 L399.40 15.16" stroke="#1c5bbd" stroke-width="3.0" stroke-dasharray="3.4 2.1 7.0 2.1" stroke-dashoffset="0.8"/>
</g>
<rect x="52.8" y="4.5" width="346.60" height="213.75" fill="none" stroke="#6e6e6e" stroke-width="0.85"/>
<path d="M64.35 218.25 v-2.5 M64.35 4.5 v2.5 M75.91 218.25 v-2.5 M75.91 4.5 v2.5 M87.46 218.25 v-2.5 M87.46 4.5 v2.5 M99.01 218.25 v-2.5 M99.01 4.5 v2.5 M110.57 218.25 v-4.2 M110.57 4.5 v4.2 M122.12 218.25 v-2.5 M122.12 4.5 v2.5 M133.67 218.25 v-2.5 M133.67 4.5 v2.5 M145.23 218.25 v-2.5 M145.23 4.5 v2.5 M156.78 218.25 v-2.5 M156.78 4.5 v2.5 M168.33 218.25 v-4.2 M168.33 4.5 v4.2 M179.89 218.25 v-2.5 M179.89 4.5 v2.5 M191.44 218.25 v-2.5 M191.44 4.5 v2.5 M202.99 218.25 v-2.5 M202.99 4.5 v2.5 M214.55 218.25 v-2.5 M214.55 4.5 v2.5 M226.10 218.25 v-4.2 M226.10 4.5 v4.2 M237.65 218.25 v-2.5 M237.65 4.5 v2.5 M249.21 218.25 v-2.5 M249.21 4.5 v2.5 M260.76 218.25 v-2.5 M260.76 4.5 v2.5 M272.31 218.25 v-2.5 M272.31 4.5 v2.5 M283.87 218.25 v-4.2 M283.87 4.5 v4.2 M295.42 218.25 v-2.5 M295.42 4.5 v2.5 M306.97 218.25 v-2.5 M306.97 4.5 v2.5 M318.53 218.25 v-2.5 M318.53 4.5 v2.5 M330.08 218.25 v-2.5 M330.08 4.5 v2.5 M341.63 218.25 v-4.2 M341.63 4.5 v4.2 M353.19 218.25 v-2.5 M353.19 4.5 v2.5 M364.74 218.25 v-2.5 M364.74 4.5 v2.5 M376.29 218.25 v-2.5 M376.29 4.5 v2.5 M387.85 218.25 v-2.5 M387.85 4.5 v2.5 M52.8 216.24 h2.5 M399.4 216.24 h-2.5 M52.8 203.07 h2.5 M399.4 203.07 h-2.5 M52.8 189.90 h4.2 M399.4 189.90 h-4.2 M52.8 176.73 h2.5 M399.4 176.73 h-2.5 M52.8 163.56 h2.5 M399.4 163.56 h-2.5 M52.8 150.39 h2.5 M399.4 150.39 h-2.5 M52.8 137.22 h4.2 M399.4 137.22 h-4.2 M52.8 124.05 h2.5 M399.4 124.05 h-2.5 M52.8 110.87 h2.5 M399.4 110.87 h-2.5 M52.8 97.70 h2.5 M399.4 97.70 h-2.5 M52.8 84.53 h4.2 M399.4 84.53 h-4.2 M52.8 71.36 h2.5 M399.4 71.36 h-2.5 M52.8 58.19 h2.5 M399.4 58.19 h-2.5 M52.8 45.02 h2.5 M399.4 45.02 h-2.5 M52.8 31.85 h4.2 M399.4 31.85 h-4.2 M52.8 18.68 h2.5 M399.4 18.68 h-2.5 M52.8 5.51 h2.5 M399.4 5.51 h-2.5" stroke="#6e6e6e" stroke-width="0.8" fill="none"/>
<text x="52.80" y="234.0" font-size="13.5" text-anchor="middle" transform="rotate(0.03 52.80 234)">0</text>
<path transform="translate(106.81 234.00) scale(0.006592 -0.006592)" d="M515 0V1237L197 1010V1180L530 1409H696V0Z"/>
<text x="168.33" y="234.0" font-size="13.5" text-anchor="middle" transform="rotate(0.03 168.33 234)">2</text>
<text x="226.10" y="234.0" font-size="13.5" text-anchor="middle" transform="rotate(0.03 226.10 234)">3</text>
<text x="283.87" y="234.0" font-size="13.5" text-anchor="middle" transform="rotate(0.03 283.87 234)">4</text>
<text x="341.63" y="234.0" font-size="13.5" text-anchor="middle" transform="rotate(0.03 341.63 234)">5</text>
<text x="399.40" y="234.0" font-size="13.5" text-anchor="middle" transform="rotate(0.03 399.40 234)">6</text>
<path transform="translate(30.23 194.60) scale(0.006592 -0.006592)" d="M515 0V1237L197 1010V1180L530 1409H696V0Z"/>
<text x="37.74" y="194.60" font-size="13.5" transform="rotate(0.03 37.74 194.60)">.0</text>
<path transform="translate(30.23 141.92) scale(0.006592 -0.006592)" d="M515 0V1237L197 1010V1180L530 1409H696V0Z"/>
<text x="37.74" y="141.92" font-size="13.5" transform="rotate(0.03 37.74 141.92)">.2</text>
<path transform="translate(30.23 89.23) scale(0.006592 -0.006592)" d="M515 0V1237L197 1010V1180L530 1409H696V0Z"/>
<text x="37.74" y="89.23" font-size="13.5" transform="rotate(0.03 37.74 89.23)">.4</text>
<path transform="translate(30.23 36.55) scale(0.006592 -0.006592)" d="M515 0V1237L197 1010V1180L530 1409H696V0Z"/>
<text x="37.74" y="36.55" font-size="13.5" transform="rotate(0.03 37.74 36.55)">.6</text>
<text x="0" y="0" font-size="17.6" text-anchor="middle" transform="translate(226.35 260.8) rotate(0.03) scale(1.07 1)">z</text>
<g transform="translate(17.7,161.8) rotate(-90)"><text x="0.00" y="0.00" font-size="18" font-style="italic">d</text><text x="10.30" y="-9.80" font-size="13.1">gw</text><text x="9.80" y="4.70" font-size="12.5" font-style="italic">L</text><text x="26.98" y="0.00" font-size="18">(z)/</text><text x="52.20" y="0.00" font-size="18" font-style="italic">d</text><text x="62.00" y="4.70" font-size="12.5" font-style="italic">L</text><text x="63.5" y="-7.7" font-size="12.8" textLength="16.4" lengthAdjust="spacingAndGlyphs">em</text><text x="81.60" y="0.00" font-size="18">(z)</text></g>
</svg>
</body></html>
